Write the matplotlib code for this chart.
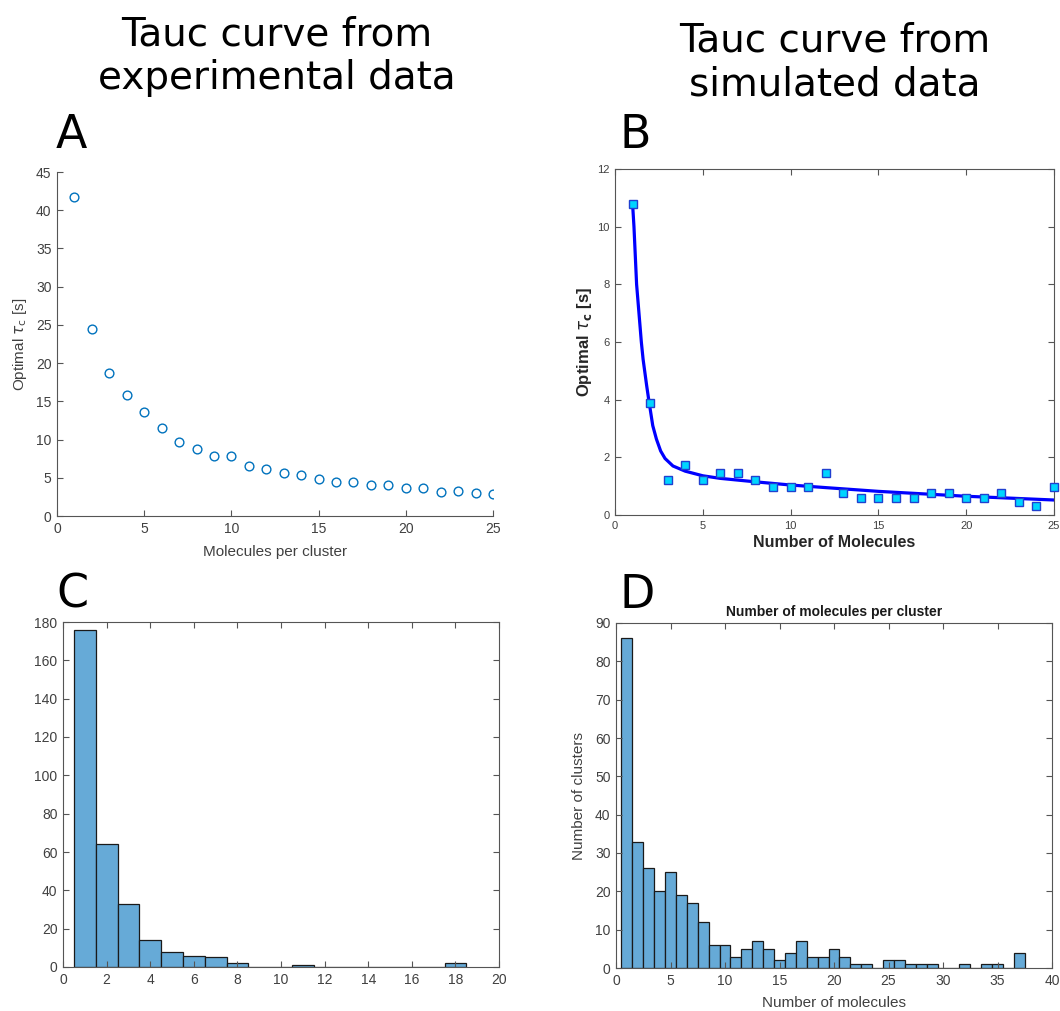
import numpy as np
import matplotlib
matplotlib.use("Agg")
import matplotlib.pyplot as plt

# ---------------- data ----------------
# Panel A: experimental tauc curve
a_x = list(range(1, 26))
a_y = [41.7, 24.5, 18.7, 15.8, 13.6, 11.5, 9.7, 8.7, 7.9, 7.8, 6.5, 6.1, 5.6,
       5.3, 4.8, 4.5, 4.4, 4.0, 4.0, 3.6, 3.6, 3.2, 3.3, 3.0, 2.9]

# Panel B: simulated tauc curve (points) and fitted curve
b_x = list(range(1, 26))
b_y = [10.8, 3.9, 1.2, 1.72, 1.2, 1.45, 1.45, 1.2, 0.98, 0.98, 0.98, 1.45, 0.75,
       0.58, 0.58, 0.58, 0.58, 0.75, 0.75, 0.58, 0.58, 0.75, 0.45, 0.3, 0.98]
fit_x = [1, 1.08, 1.23, 1.5, 1.6, 1.8, 1.92, 2.15, 2.36, 2.6, 2.85, 3.3, 4, 5, 6,
         8, 10, 12, 15, 20, 25]
fit_y = [10.8, 10.0, 8.0, 6.0, 5.4, 4.5, 4.0, 3.1, 2.63, 2.22, 1.96, 1.7, 1.52,
         1.36, 1.27, 1.15, 1.04, 0.95, 0.82, 0.65, 0.52]

# Panel C: histogram of experimental molecules per cluster
c_bins = list(range(1, 19))
c_counts = [176, 64, 33, 14, 8, 6, 5, 2, 0, 0, 1, 0, 0, 0, 0, 0, 0, 2]

# Panel D: histogram of simulated molecules per cluster
d_bins = list(range(1, 38))
d_counts = [86, 33, 26, 20, 25, 19, 17, 12, 6, 6, 3, 5, 7, 5, 2, 4, 7, 3, 3, 5,
            3, 1, 1, 0, 2, 2, 1, 1, 1, 0, 0, 1, 0, 1, 1, 0, 4]

# ---------------- style ----------------
W, H = 1060, 1011
fig = plt.figure(figsize=(W / 100, H / 100), dpi=100)
AX_FONT = "Liberation Sans"
GRAY = "#404040"
HIST_FACE = "#66AAD7"
HIST_EDGE = "#1a1a1a"


def axes_px(left, top, right, bottom):
    return fig.add_axes([left / W, 1 - bottom / H, (right - left) / W, (bottom - top) / H])


def style(ax, box=True, fs=9):
    for s in ax.spines.values():
        s.set_color("#555555")
        s.set_linewidth(0.8)
    if not box:
        ax.spines["top"].set_visible(False)
        ax.spines["right"].set_visible(False)
    ax.tick_params(direction="in", length=4, width=0.8, colors="#555555",
                   labelcolor=GRAY, labelsize=fs, top=box, right=box, pad=4)
    for lab in ax.get_xticklabels() + ax.get_yticklabels():
        lab.set_fontfamily(AX_FONT)


# ---------------- titles and letters ----------------
fig.text(277 / W, 1 - 16 / H, "Tauc curve from\nexperimental data", ha="center", va="top",
         fontsize=28, family="DejaVu Sans", linespacing=1.17)
fig.text(835 / W, 1 - 22 / H, "Tauc curve from\nsimulated data", ha="center", va="top",
         fontsize=28, family="DejaVu Sans", linespacing=1.17)
for letter, x, y in [("A", 56, 148), ("B", 620, 148), ("C", 56, 608), ("D", 619, 608)]:
    fig.text(x / W, 1 - y / H, letter, ha="left", va="baseline", fontsize=33,
             family="DejaVu Sans")

# ---------------- Panel A ----------------
axA = axes_px(57, 172, 493, 516)
axA.plot(a_x, a_y, linestyle="none", marker="o", markersize=6.3, markerfacecolor="none",
         markeredgecolor="#0072BD", markeredgewidth=1.0)
axA.set_xlim(0, 25)
axA.set_ylim(0, 45)
axA.set_xticks(range(0, 26, 5))
axA.set_yticks(range(0, 46, 5))
style(axA, box=False, fs=10)
axA.set_xlabel("Molecules per cluster", fontsize=11, family=AX_FONT, color=GRAY, labelpad=7)
axA.set_ylabel(r"Optimal $\tau_{\rm c}$ [s]", fontsize=11, family=AX_FONT, color=GRAY,
               labelpad=5)

# ---------------- Panel B ----------------
axB = axes_px(615, 169, 1054, 515)
axB.plot(fit_x, fit_y, color="#0000FF", linewidth=2.3, zorder=2, solid_joinstyle="round")
axB.plot(b_x, b_y, linestyle="none", marker="s", markersize=5.2, markerfacecolor="#00D5FF",
         markeredgecolor="#2040D0", markeredgewidth=1.0, zorder=3, clip_on=False)
axB.set_xlim(0, 25)
axB.set_ylim(0, 12)
axB.set_xticks(range(0, 26, 5))
axB.set_yticks(range(0, 13, 2))
style(axB, box=True, fs=8)
axB.set_xlabel("Number of Molecules", fontsize=11.5, family=AX_FONT, fontweight="bold",
               color="#262626", labelpad=3)
axB.set_ylabel(r"Optimal $\tau_{\mathbf{c}}$ [s]", fontsize=12, family=AX_FONT,
               fontweight="bold", color="#262626", labelpad=2)

# ---------------- Panel C ----------------
axC = axes_px(63, 622, 499, 967)
axC.bar(c_bins, c_counts, width=1.0, color=HIST_FACE, edgecolor=HIST_EDGE, linewidth=0.9)
axC.set_xlim(0, 20)
axC.set_ylim(0, 180)
axC.set_xticks(range(0, 21, 2))
axC.set_yticks(range(0, 181, 20))
style(axC, box=True, fs=10)

# ---------------- Panel D ----------------
axD = axes_px(616, 623, 1052, 968)
axD.bar(d_bins, d_counts, width=1.0, color=HIST_FACE, edgecolor=HIST_EDGE, linewidth=0.9)
axD.set_xlim(0, 40)
axD.set_ylim(0, 90)
axD.set_xticks(range(0, 41, 5))
axD.set_yticks(range(0, 91, 10))
style(axD, box=True, fs=10)
axD.set_title("Number of molecules per cluster", fontsize=10, family=AX_FONT,
              fontweight="bold", color="#1a1a1a", pad=5)
axD.set_xlabel("Number of molecules", fontsize=11, family=AX_FONT, color=GRAY, labelpad=6)
axD.set_ylabel("Number of clusters", fontsize=11, family=AX_FONT, color=GRAY, labelpad=6)

fig.savefig("out.png", dpi=100, facecolor="white")
